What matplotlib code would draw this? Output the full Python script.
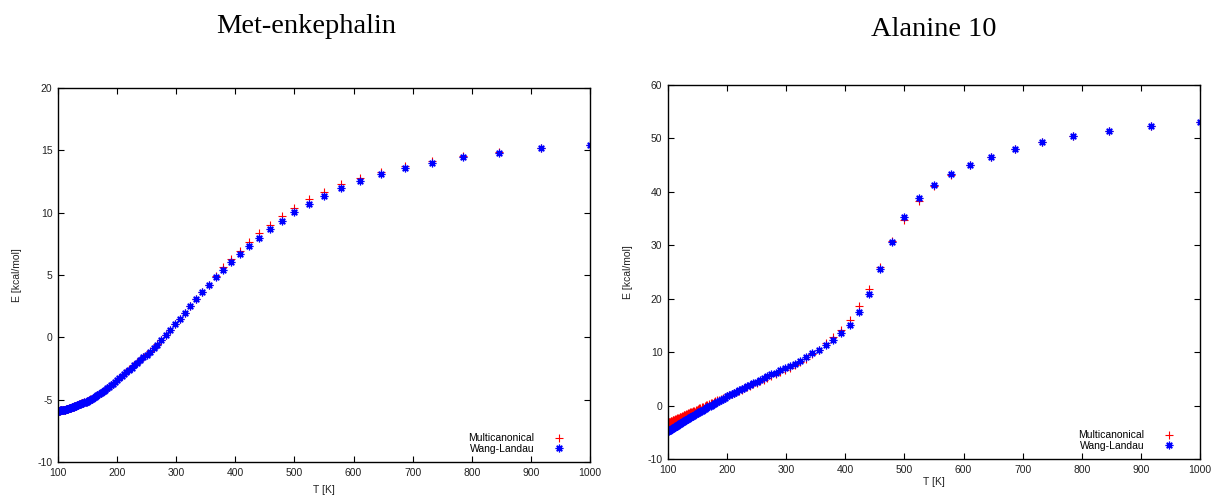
import matplotlib
matplotlib.use("Agg")
import matplotlib.pyplot as plt

plt.rcParams["axes.unicode_minus"] = False

# Temperatures (K), shared by both panels
temperature = [100.0, 100.9, 101.9, 102.8, 103.8, 104.8, 105.8, 106.8, 107.8, 108.9,
               110.0, 111.1, 112.2, 113.4, 114.6, 115.8, 117.0, 118.3, 119.6, 120.9,
               122.2, 123.6, 125.0, 126.4, 127.9, 129.4, 131.0, 132.5, 134.1, 135.8,
               137.5, 139.2, 141.0, 142.9, 144.7, 146.7, 148.6, 150.7, 152.8, 154.9,
               157.1, 159.4, 161.8, 164.2, 166.7, 169.2, 171.9, 174.6, 177.4, 180.3,
               183.3, 186.4, 189.7, 193.0, 196.4, 200.0, 203.7, 207.5, 211.5, 215.7,
               220.0, 224.5, 229.2, 234.0, 239.1, 244.4, 250.0, 255.8, 261.9, 268.3,
               275.0, 282.1, 289.5, 297.3, 305.6, 314.3, 323.5, 333.3, 343.8, 354.8,
               366.7, 379.3, 392.9, 407.4, 423.1, 440.0, 458.3, 478.3, 500.0, 523.8,
               550.0, 578.9, 611.1, 647.1, 687.5, 733.3, 785.7, 846.2, 916.7, 1000.0]

# Met-enkephalin, E [kcal/mol]
met_multicanonical = [-5.88, -5.88, -5.87, -5.87, -5.86, -5.86, -5.85, -5.85, -5.84, -5.83,
                      -5.82, -5.81, -5.79, -5.77, -5.76, -5.74, -5.72, -5.70, -5.68, -5.66,
                      -5.63, -5.61, -5.58, -5.56, -5.53, -5.50, -5.47, -5.44, -5.40, -5.37,
                      -5.33, -5.30, -5.27, -5.23, -5.20, -5.16, -5.13, -5.08, -5.03, -4.97,
                      -4.91, -4.85, -4.78, -4.71, -4.64, -4.56, -4.48, -4.39, -4.29, -4.19,
                      -4.08, -3.96, -3.84, -3.71, -3.57, -3.43, -3.27, -3.11, -2.94, -2.76,
                      -2.58, -2.40, -2.21, -2.01, -1.80, -1.58, -1.36, -1.12, -0.86, -0.56,
                      -0.20, 0.19, 0.59, 1.06, 1.51, 1.98, 2.50, 3.06, 3.64, 4.22,
                      4.90, 5.62, 6.26, 6.95, 7.65, 8.35, 9.04, 9.74, 10.40, 11.07,
                      11.68, 12.30, 12.81, 13.29, 13.75, 14.17, 14.57, 14.90, 15.20, 15.45]
met_wang_landau = [-5.88, -5.88, -5.87, -5.87, -5.86, -5.86, -5.85, -5.85, -5.84, -5.83,
                   -5.82, -5.81, -5.79, -5.77, -5.76, -5.74, -5.72, -5.70, -5.69, -5.66,
                   -5.64, -5.62, -5.59, -5.57, -5.54, -5.51, -5.48, -5.45, -5.42, -5.38,
                   -5.35, -5.32, -5.28, -5.25, -5.21, -5.18, -5.15, -5.10, -5.05, -4.99,
                   -4.93, -4.87, -4.80, -4.73, -4.66, -4.58, -4.50, -4.41, -4.31, -4.21,
                   -4.10, -3.98, -3.86, -3.73, -3.59, -3.45, -3.29, -3.13, -2.96, -2.78,
                   -2.60, -2.42, -2.23, -2.03, -1.82, -1.60, -1.38, -1.14, -0.88, -0.58,
                   -0.22, 0.17, 0.57, 1.04, 1.49, 1.96, 2.48, 3.04, 3.62, 4.20,
                   4.80, 5.40, 6.02, 6.67, 7.33, 8.00, 8.67, 9.36, 10.03, 10.70,
                   11.34, 11.96, 12.54, 13.08, 13.56, 14.01, 14.44, 14.81, 15.16, 15.43]

# Alanine 10, E [kcal/mol]
ala_multicanonical = [-3.13, -3.09, -3.04, -2.99, -2.94, -2.89, -2.84, -2.79, -2.74, -2.68,
                      -2.62, -2.57, -2.51, -2.45, -2.39, -2.33, -2.27, -2.20, -2.14, -2.07,
                      -2.01, -1.94, -1.87, -1.80, -1.72, -1.65, -1.57, -1.49, -1.41, -1.33,
                      -1.24, -1.16, -1.07, -0.97, -0.88, -0.78, -0.69, -0.58, -0.48, -0.37,
                      -0.26, -0.15, -0.03, 0.09, 0.21, 0.33, 0.46, 0.59, 0.72, 0.86,
                      1.00, 1.15, 1.30, 1.45, 1.61, 1.77, 1.96, 2.15, 2.36, 2.58,
                      2.81, 3.04, 3.28, 3.52, 3.78, 4.04, 4.31, 4.60, 4.90, 5.22,
                      5.55, 5.90, 6.27, 6.68, 7.12, 7.58, 8.15, 8.85, 9.70, 10.50,
                      11.69, 12.81, 14.18, 16.05, 18.61, 21.85, 26.03, 30.80, 34.75, 38.30,
                      41.05, 43.20, 45.00, 46.55, 48.00, 49.25, 50.45, 51.45, 52.38, 53.12]
ala_wang_landau = [-4.74, -4.68, -4.61, -4.54, -4.47, -4.40, -4.33, -4.26, -4.19, -4.12,
                   -4.04, -3.96, -3.88, -3.80, -3.71, -3.63, -3.55, -3.46, -3.37, -3.29,
                   -3.20, -3.10, -3.01, -2.91, -2.81, -2.71, -2.60, -2.50, -2.39, -2.27,
                   -2.17, -2.05, -1.93, -1.81, -1.69, -1.56, -1.43, -1.29, -1.16, -1.02,
                   -0.88, -0.73, -0.58, -0.43, -0.27, -0.11, 0.06, 0.23, 0.40, 0.58,
                   0.77, 0.96, 1.16, 1.35, 1.55, 1.76, 1.97, 2.18, 2.40, 2.64,
                   2.88, 3.13, 3.39, 3.65, 3.93, 4.22, 4.52, 4.83, 5.16, 5.50,
                   5.86, 6.23, 6.62, 7.05, 7.45, 7.90, 8.45, 9.08, 9.80, 10.45,
                   11.30, 12.30, 13.56, 15.12, 17.49, 20.91, 25.55, 30.70, 35.35, 38.87,
                   41.36, 43.41, 45.10, 46.60, 48.03, 49.28, 50.46, 51.46, 52.39, 53.14]

panel_titles = ["Met-enkephalin", "Alanine 10"]
series_labels = ["Multicanonical", "Wang-Landau"]
x_ticks = [100, 200, 300, 400, 500, 600, 700, 800, 900, 1000]
met_y_ticks = [-10, -5, 0, 5, 10, 15, 20]
ala_y_ticks = [-10, 0, 10, 20, 30, 40, 50, 60]

W, H = 1215, 495
fig = plt.figure(figsize=(W / 100, H / 100), dpi=100)
fig.patch.set_facecolor("white")

sans = ["Liberation Sans", "DejaVu Sans"]
serif = ["Liberation Serif", "DejaVu Serif"]
small = 7.5


def rect(x0, y0, x1, y1):
    return [x0 / W, 1 - y1 / H, (x1 - x0) / W, (y1 - y0) / H]


panels = [
    dict(rect=rect(58, 88, 590, 462), multi=met_multicanonical, wl=met_wang_landau,
         yticks=met_y_ticks, title=panel_titles[0], title_xy=(306, 33),
         ylabel_x=17, xlabel_y=490),
    dict(rect=rect(668, 85, 1200, 459.3), multi=ala_multicanonical, wl=ala_wang_landau,
         yticks=ala_y_ticks, title=panel_titles[1], title_xy=(934, 36),
         ylabel_x=628, xlabel_y=482),
]

for p in panels:
    ax = fig.add_axes(p["rect"])
    ax.plot(temperature, p["multi"], linestyle="none", marker="+", color="#ff0000",
            markersize=5.5, markeredgewidth=0.8, label=series_labels[0])
    ax.plot(temperature, p["wl"], linestyle="none", marker=(8, 2, 0), color="#0000ff",
            markersize=5.5, markeredgewidth=0.9, label=series_labels[1])
    ax.set_xlim(100, 1000)
    ax.set_ylim(p["yticks"][0], p["yticks"][-1])
    ax.set_xticks(x_ticks)
    ax.set_yticks(p["yticks"])
    ax.tick_params(direction="in", top=True, right=True, length=4, width=0.8,
                   labelsize=small, pad=4, colors="black")
    for lab in ax.get_xticklabels() + ax.get_yticklabels():
        lab.set_fontfamily(sans)
        lab.set_color("#222222")
    for s in ax.spines.values():
        s.set_linewidth(1.0)
        s.set_color("black")
    ax.legend(loc="lower right", bbox_to_anchor=(1 - 16 / 532, 0), frameon=False,
              markerfirst=False, prop={"family": sans, "size": small},
              handlelength=1.2, handletextpad=1.8, labelspacing=0.05,
              borderaxespad=0.5, borderpad=0.3)
    tx, ty = p["title_xy"]
    fig.text(tx / W, 1 - ty / H, p["title"], ha="center", va="baseline",
             fontsize=20.5, family=serif, color="black")
    cx = (p["rect"][0] + p["rect"][2] / 2)
    cy = (p["rect"][1] + p["rect"][3] / 2)
    fig.text(p["ylabel_x"] / W, cy, "E [kcal/mol]", rotation=90, ha="center",
             va="center", fontsize=small, family=sans, color="#222222")
    fig.text(cx, 1 - p["xlabel_y"] / H, "T [K]", ha="center", va="center",
             fontsize=small, family=sans, color="#222222")

fig.savefig("out.png", dpi=100, facecolor="white")
